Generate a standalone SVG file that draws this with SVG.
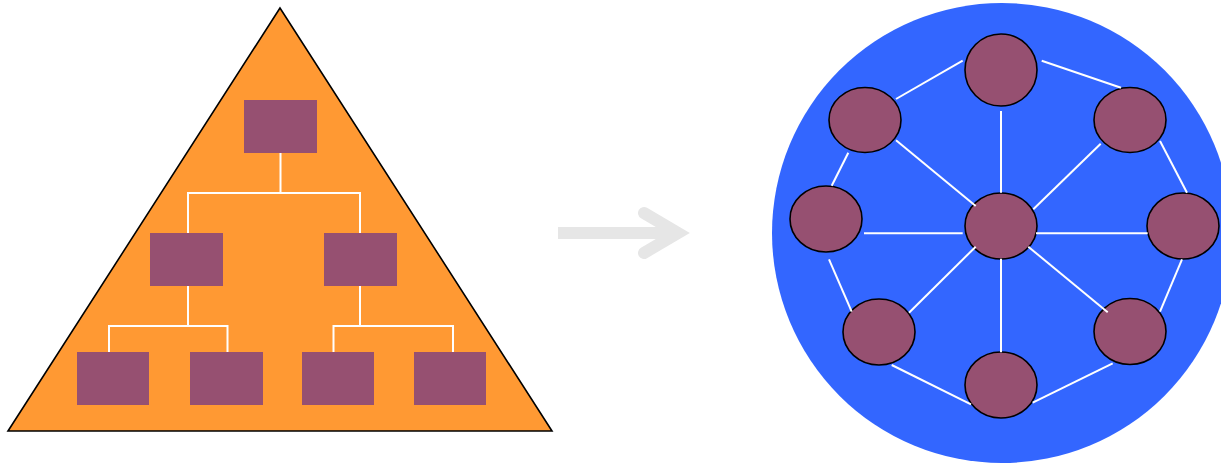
<svg xmlns="http://www.w3.org/2000/svg" width="1221" height="464" viewBox="0 0 1221 464">
<style>
.box{fill:#965071}
.nd{fill:#965071;stroke:#000;stroke-width:1.6}
.ln{stroke:#fff;stroke-width:2;fill:none}
</style>
<rect width="1221" height="464" fill="#fff"/>
<g id="pyramid">
<polygon points="280,8 8,431 552,431" fill="#ff9933" stroke="#000" stroke-width="1.6"/>
</g>
<g id="tree-connectors">
<path class="ln" d="M280.5,153V193M188,233V193H360V233"/>
<path class="ln" d="M188,286V326M109,352V326H227.5V352"/>
<path class="ln" d="M360,286V326M333.5,352V326H453V352"/>
</g>
<g id="t-root"><rect class="box" x="244" y="100" width="73" height="53"/></g>
<g id="t-l"><rect class="box" x="150" y="233" width="73" height="53"/></g>
<g id="t-r"><rect class="box" x="324" y="233" width="73" height="53"/></g>
<g id="t-ll"><rect class="box" x="77" y="352" width="72" height="53"/></g>
<g id="t-lr"><rect class="box" x="190" y="352" width="73" height="53"/></g>
<g id="t-rl"><rect class="box" x="302" y="352" width="72" height="53"/></g>
<g id="t-rr"><rect class="box" x="414" y="352" width="72" height="53"/></g>
<g id="arrow" stroke="#e6e6e6" stroke-width="12" fill="none">
<line x1="558" y1="233" x2="680" y2="233"/>
<polyline points="644,213 678,233 644,253" stroke-linecap="round" stroke-linejoin="miter"/>
</g>
<g id="network">
<circle cx="1002" cy="233" r="230" fill="#3366ff"/>
</g>
<g id="n-top"><ellipse class="nd" cx="1001" cy="70" rx="36" ry="36"/></g>
<g id="n-ul"><ellipse class="nd" cx="865" cy="120" rx="36" ry="32.5"/></g>
<g id="n-ur"><ellipse class="nd" cx="1130" cy="120" rx="36" ry="32.5"/></g>
<g id="n-l"><ellipse class="nd" cx="826" cy="219" rx="36" ry="33"/></g>
<g id="n-c"><ellipse class="nd" cx="1001" cy="226" rx="36" ry="33"/></g>
<g id="n-r"><ellipse class="nd" cx="1183" cy="226" rx="36" ry="33"/></g>
<g id="n-ll"><ellipse class="nd" cx="879" cy="332" rx="36" ry="33"/></g>
<g id="n-lr"><ellipse class="nd" cx="1130" cy="331.5" rx="36" ry="33"/></g>
<g id="n-b"><ellipse class="nd" cx="1001" cy="385" rx="36" ry="33"/></g>
<g id="net-connectors" class="ln">
<line x1="962.7" y1="60.7" x2="896" y2="99"/>
<line x1="1041.7" y1="60.7" x2="1121" y2="87.7"/>
<line x1="1160" y1="141" x2="1187" y2="192.7"/>
<line x1="1182" y1="259.3" x2="1160" y2="311.7"/>
<line x1="1112.7" y1="363.3" x2="1032.7" y2="402.7"/>
<line x1="971" y1="404.3" x2="891.7" y2="365"/>
<line x1="851.7" y1="311.7" x2="829" y2="259.3"/>
<line x1="831.7" y1="185.7" x2="848.3" y2="152.7"/>
<line x1="1001" y1="111" x2="1001" y2="192.7"/>
<line x1="896" y1="140.3" x2="975.7" y2="206"/>
<line x1="1100.7" y1="143.7" x2="1033.3" y2="209.3"/>
<line x1="864" y1="233.3" x2="962.7" y2="233.3"/>
<line x1="1036" y1="233.3" x2="1147.7" y2="233.3"/>
<line x1="975.7" y1="246.7" x2="909" y2="312.7"/>
<line x1="1028.3" y1="246.7" x2="1107.7" y2="312.3"/>
<line x1="1001" y1="258.7" x2="1001" y2="352.3"/>
</g>
</svg>
